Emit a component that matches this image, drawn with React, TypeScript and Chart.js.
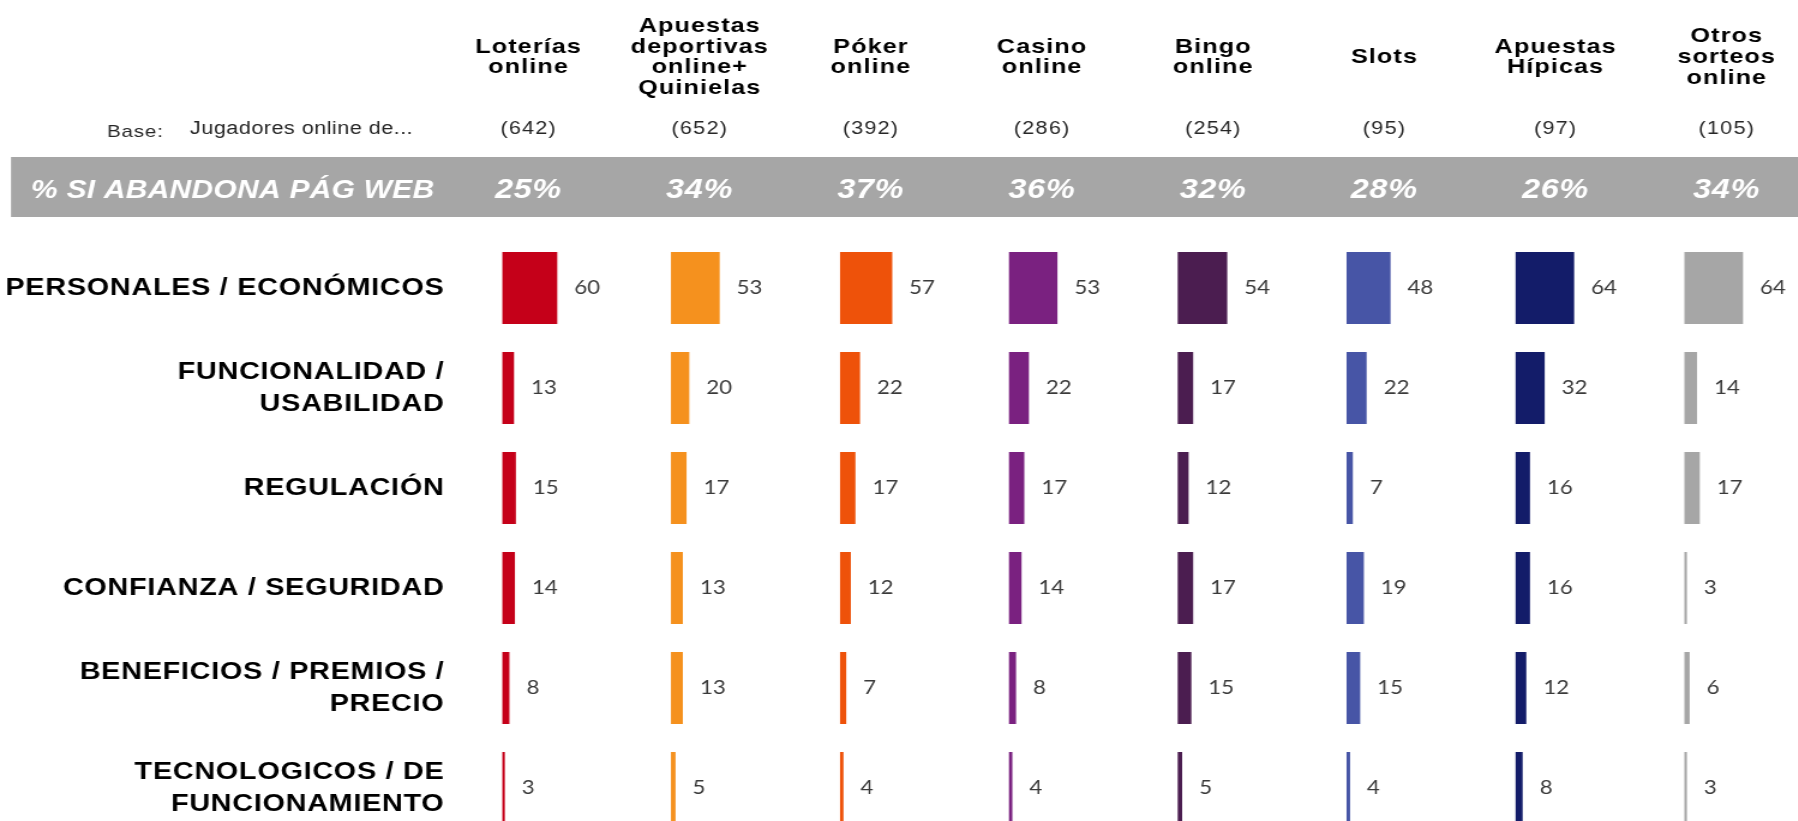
import React, { useEffect, useRef } from 'react';
import { Chart, registerables } from 'chart.js';

Chart.register(...registerables);

// ---------- data ----------
const REASONS: (string | string[])[] = [
  'PERSONALES / ECONÓMICOS',
  ['FUNCIONALIDAD /', 'USABILIDAD'],
  'REGULACIÓN',
  'CONFIANZA / SEGURIDAD',
  ['BENEFICIOS / PREMIOS /', 'PRECIO'],
  ['TECNOLOGICOS / DE', 'FUNCIONAMIENTO'],
];

const GAME_HEADERS: string[][] = [
  ['Loterías', 'online'],
  ['Apuestas', 'deportivas', 'online+', 'Quinielas'],
  ['Póker', 'online'],
  ['Casino', 'online'],
  ['Bingo', 'online'],
  ['Slots'],
  ['Apuestas', 'Hípicas'],
  ['Otros', 'sorteos', 'online'],
];

const BASE_SIZES = ['(642)', '(652)', '(392)', '(286)', '(254)', '(95)', '(97)', '(105)'];
const ABANDON_PCT = ['25%', '34%', '37%', '36%', '32%', '28%', '26%', '34%'];

const LOTERIAS = [60, 13, 15, 14, 8, 3];
const APUESTAS_DEP = [53, 20, 17, 13, 13, 5];
const POKER = [57, 22, 17, 12, 7, 4];
const CASINO = [53, 22, 17, 14, 8, 4];
const BINGO = [54, 17, 12, 17, 15, 5];
const SLOTS = [48, 22, 7, 19, 15, 4];
const HIPICAS = [64, 32, 16, 16, 12, 8];
const OTROS = [64, 14, 17, 3, 6, 3];

const SERIES = [LOTERIAS, APUESTAS_DEP, POKER, CASINO, BINGO, SLOTS, HIPICAS, OTROS];
const COLORS = ['#C50019', '#F5911E', '#EE520A', '#7A2180', '#4B1D50', '#4755A6', '#131C69', '#A6A6A6'];

// ---------- layout / style ----------
// The slide is drawn on a canvas that is widened horizontally by K (like the original).
const K = 1.2;
const VIEW_W = 1798;
const VIEW_H = 821;
const DISPLAY_W = 1853;
const CANVAS_H = 838;
const CANVAS_W = Math.round(DISPLAY_W / K);
const AXIS_W = 502 / K;
const TOP = 238;
const COL_MAX = 183.5;
const SANS = "'Liberation Sans', Arial, sans-serif";
const NUMF = "Lato, 'Open Sans', sans-serif";

const px = (v: number) => v / K; // display px -> canvas px (horizontal)

function colCenter(chart: any, i: number) {
  return chart.scales['x' + i].left + px(26 + 2.3 * i);
}

function spacedText(ctx: any, text: string, x: number, y: number, spacing: number, align: string) {
  ctx.letterSpacing = spacing + 'px';
  ctx.textAlign = align;
  let dx = 0;
  if (align === 'center') dx = spacing / 2;
  else if (align === 'right') dx = spacing;
  ctx.fillText(text, x + dx, y);
}

const decorPlugin = {
  id: 'decor',
  beforeDraw(chart: any) {
    const ctx = chart.ctx;
    ctx.save();
    ctx.fillStyle = '#A6A6A6';
    ctx.fillRect(px(11), 157, chart.width - px(11), 60);
    ctx.restore();
    ctx.letterSpacing = '0.6px';
  },
  afterDatasetsDraw(chart: any) {
    const ctx = chart.ctx;
    ctx.save();
    ctx.font = `18.5px ${NUMF}`;
    ctx.fillStyle = '#3a3a3a';
    ctx.textBaseline = 'middle';
    chart.data.datasets.forEach((ds: any, i: number) => {
      const meta = chart.getDatasetMeta(i);
      meta.data.forEach((el: any, j: number) => {
        spacedText(ctx, String(ds.data[j]), el.x + px(17), el.y, 0, 'left');
      });
    });
    ctx.restore();
  },
  afterDraw(chart: any) {
    const ctx = chart.ctx;
    ctx.letterSpacing = '0px';
    ctx.save();
    // headers
    ctx.fillStyle = '#000';
    ctx.font = `bold 21px ${SANS}`;
    ctx.textBaseline = 'alphabetic';
    GAME_HEADERS.forEach((lines, i) => {
      const cx = colCenter(chart, i);
      const n = lines.length;
      lines.forEach((ln, k) => {
        spacedText(ctx, ln, cx, 63 + (k - (n - 1) / 2) * 20.8, 0.9, 'center');
      });
    });
    // base row
    ctx.fillStyle = '#262626';
    ctx.textBaseline = 'middle';
    ctx.font = `17px ${SANS}`;
    spacedText(ctx, 'Base:', px(107), 132, 0.8, 'left');
    ctx.font = `18px ${SANS}`;
    spacedText(ctx, 'Jugadores online de...', px(190), 129, 0.4, 'left');
    BASE_SIZES.forEach((t, i) => {
      spacedText(ctx, t, colCenter(chart, i), 129, 1, 'center');
    });
    // band texts
    ctx.fillStyle = '#FFFFFF';
    ctx.font = `italic bold 25px ${SANS}`;
    spacedText(ctx, '% SI ABANDONA PÁG WEB', px(31), 191, 0.2, 'left');
    ctx.font = `italic bold 27px ${SANS}`;
    ABANDON_PCT.forEach((t, i) => {
      spacedText(ctx, t, colCenter(chart, i), 191, 0.5, 'center');
    });
    ctx.restore();
    ctx.letterSpacing = '0px';
  },
};

export default function App() {
  const ref = useRef<HTMLCanvasElement>(null);
  useEffect(() => {
    const scales: any = {
      y: {
        type: 'category',
        position: 'left',
        grid: { display: false, drawTicks: false },
        border: { display: false },
        ticks: {
          autoSkip: false,
          padding: 48,
          color: '#000',
          font: { family: SANS, size: 24, weight: 'bold', lineHeight: 1.33 },
        },
        afterFit: (s: any) => {
          s.width = AXIS_W;
          s.paddingTop = 0;
          s.paddingBottom = 0;
        },
      },
    };
    SERIES.forEach((_, i) => {
      scales['x' + i] = {
        type: 'linear',
        position: 'bottom',
        stack: 'cols',
        stackWeight: 1,
        min: 0,
        max: COL_MAX,
        display: false,
        grid: { display: false },
        afterFit: (s: any) => {
          s.paddingLeft = 0;
          s.paddingRight = 0;
          s.height = 0;
        },
      };
    });
    const chart = new Chart(ref.current as HTMLCanvasElement, {
      type: 'bar',
      data: {
        labels: REASONS as any,
        datasets: SERIES.map((values, i) => ({
          label: GAME_HEADERS[i].join(' '),
          data: values,
          backgroundColor: COLORS[i],
          borderWidth: 0,
          xAxisID: 'x' + i,
          yAxisID: 'y',
          grouped: false,
          barPercentage: 0.72,
          categoryPercentage: 1,
        })),
      } as any,
      options: {
        indexAxis: 'y',
        responsive: false,
        maintainAspectRatio: false,
        animation: false,
        devicePixelRatio: 1,
        events: [],
        layout: { padding: { top: TOP, left: 0, right: 0, bottom: 0 } },
        plugins: { legend: { display: false }, tooltip: { enabled: false } },
        scales,
      } as any,
      plugins: [decorPlugin],
    });
    return () => chart.destroy();
  }, []);
  return (
    <div
      style={{
        position: 'fixed',
        left: 0,
        top: 0,
        width: VIEW_W,
        height: VIEW_H,
        overflow: 'hidden',
        background: '#fff',
      }}
    >
      <canvas
        ref={ref}
        width={CANVAS_W}
        height={CANVAS_H}
        style={{ width: DISPLAY_W + 'px', height: CANVAS_H + 'px', display: 'block' }}
      />
    </div>
  );
}
